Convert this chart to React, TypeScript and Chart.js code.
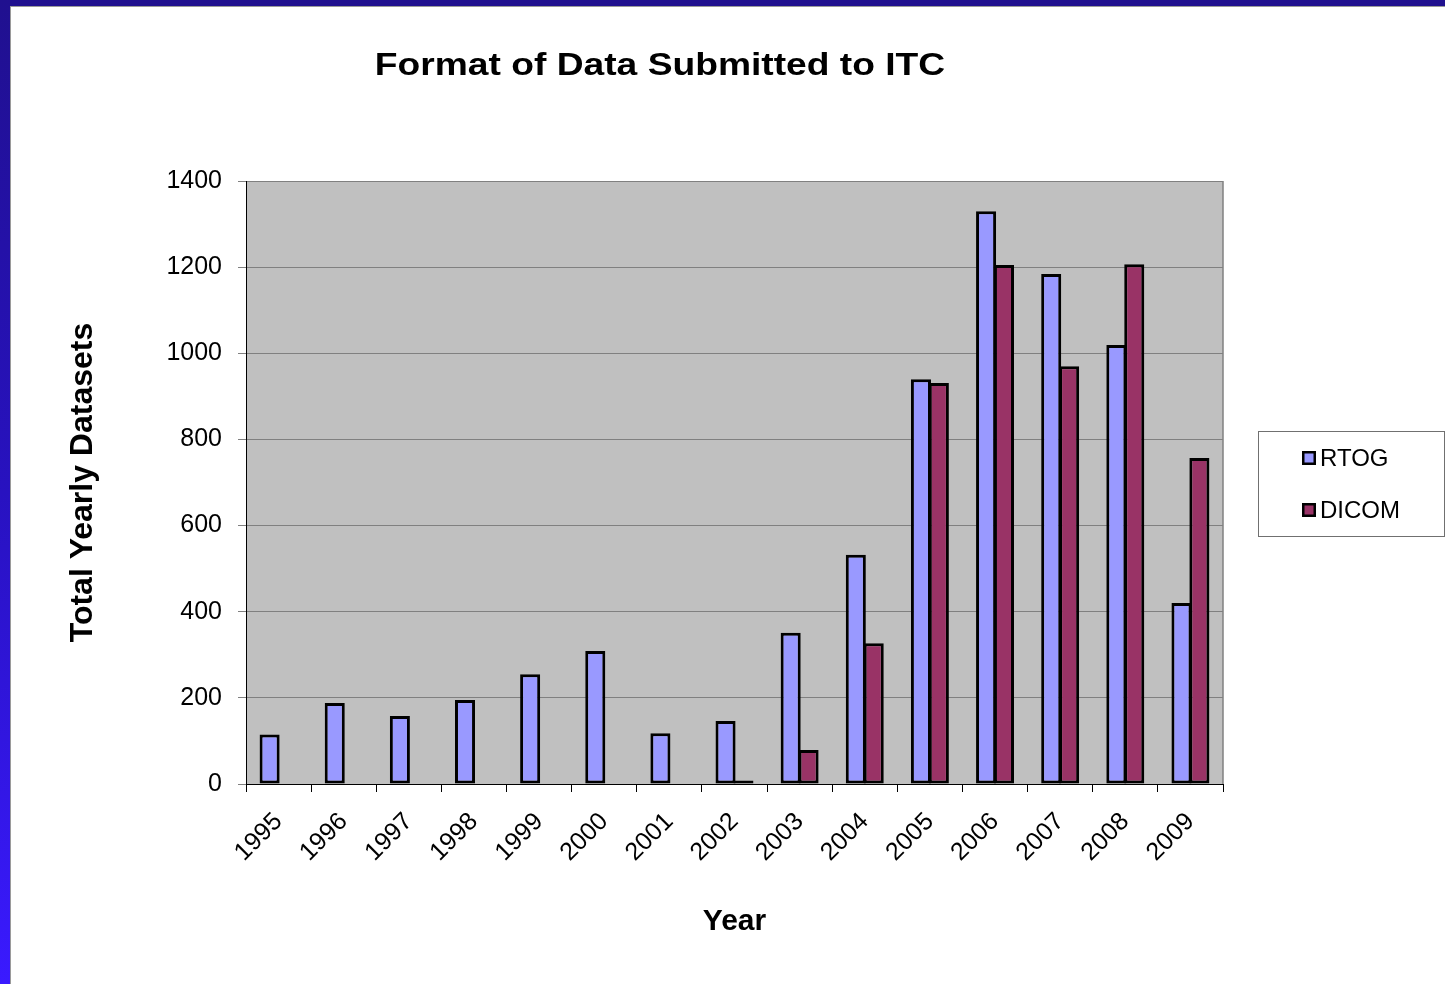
import React, { useEffect, useRef } from "react";
import { Chart, registerables } from "chart.js";

Chart.register(...registerables);

const years = ["1995", "1996", "1997", "1998", "1999", "2000", "2001", "2002", "2003", "2004", "2005", "2006", "2007", "2008", "2009"];
const rtogValues = [115, 188, 158, 195, 255, 309, 118, 146, 351, 532, 940, 1330, 1184, 1019, 420];
const dicomValues = [0, 0, 0, 0, 0, 0, 0, 8, 79, 327, 931, 1205, 970, 1207, 757];
const seriesLabels = ["RTOG", "DICOM"];
const seriesColors = ["#9999FF", "#993366"];
const yMax = 1400;
const yStep = 200;
const chartTitle = "Format of Data Submitted to ITC";
const yAxisTitle = "Total Yearly Datasets";
const xAxisTitle = "Year";

const FONT = "'Liberation Sans', Arial, Helvetica, sans-serif";

const W = 1445;
const H = 984;

const backgroundPlugin = {
  id: "plotBackground",
  beforeDraw(chart: any) {
    const { ctx, chartArea } = chart;
    ctx.save();
    ctx.fillStyle = "#FFFFFF";
    ctx.fillRect(0, 0, chart.width, chart.height);
    ctx.fillStyle = "#C0C0C0";
    ctx.fillRect(chartArea.left, chartArea.top, chartArea.right - chartArea.left, chartArea.bottom - chartArea.top);
    ctx.restore();
  },
  beforeDatasetsDraw(chart: any) {
    const { ctx, chartArea } = chart;
    ctx.save();
    ctx.strokeStyle = "#808080";
    ctx.lineWidth = 1.5;
    ctx.beginPath();
    ctx.moveTo(chartArea.right, chartArea.top);
    ctx.lineTo(chartArea.right, chartArea.bottom);
    ctx.stroke();
    ctx.restore();
  },
};

const titleAndLegendPlugin = {
  id: "titleAndLegend",
  afterDraw(chart: any) {
    const { ctx, chartArea } = chart;
    // title (horizontally stretched like the original)
    ctx.save();
    ctx.font = `bold 31px ${FONT}`;
    ctx.fillStyle = "#000000";
    ctx.textAlign = "center";
    ctx.textBaseline = "alphabetic";
    ctx.translate(660, 75);
    ctx.scale(1.2, 1);
    ctx.fillText(chartTitle, 0, 0);
    ctx.restore();

    // legend box
    const bx = chartArea.right + 35;
    const by = 431;
    const bw = 186;
    const bh = 105;
    ctx.save();
    ctx.fillStyle = "#FFFFFF";
    ctx.fillRect(bx, by, bw, bh);
    ctx.strokeStyle = "#707070";
    ctx.lineWidth = 1;
    ctx.strokeRect(bx + 0.5, by + 0.5, bw, bh);
    ctx.font = `24px ${FONT}`;
    ctx.textAlign = "left";
    ctx.textBaseline = "middle";
    chart.data.datasets.forEach((ds: any, i: number) => {
      const cy = by + 27 + i * 52;
      const sx = bx + 44;
      ctx.fillStyle = "#000000";
      ctx.fillRect(sx, cy - 7, 14, 14);
      ctx.fillStyle = ds.backgroundColor;
      ctx.fillRect(sx + 2.5, cy - 4.5, 9, 9);
      ctx.fillStyle = "#000000";
      ctx.fillText(ds.label, sx + 18, cy + 1);
    });
    ctx.restore();
  },
};

export default function App() {
  const canvasRef = useRef<HTMLCanvasElement | null>(null);

  useEffect(() => {
    if (!canvasRef.current) return;
    const chart = new Chart(canvasRef.current, {
      type: "bar",
      data: {
        labels: years,
        datasets: [
          {
            label: seriesLabels[0],
            data: rtogValues,
            backgroundColor: seriesColors[0],
            borderColor: "#000000",
            borderWidth: 3,
            borderSkipped: false,
            categoryPercentage: 0.55,
            barPercentage: 1.12,
          },
          {
            label: seriesLabels[1],
            data: dicomValues,
            backgroundColor: seriesColors[1],
            borderColor: "#000000",
            borderWidth: 3,
            borderSkipped: false,
            categoryPercentage: 0.55,
            barPercentage: 1.12,
          },
        ],
      },
      options: {
        responsive: false,
        animation: false,
        devicePixelRatio: 1,
        layout: { padding: { left: 0, right: W - 1223, top: 181, bottom: 0 } },
        plugins: {
          legend: { display: false },
          title: { display: false },
          tooltip: { enabled: false },
        },
        scales: {
          x: {
            offset: true,
            grid: {
              display: true,
              offset: true,
              drawOnChartArea: false,
              drawTicks: true,
              tickLength: 8,
              color: "#000000",
              lineWidth: 1,
            },
            border: { display: true, color: "#000000", width: 1 },
            ticks: {
              color: "#000000",
              font: { family: FONT, size: 25 },
              maxRotation: 45,
              minRotation: 45,
              padding: 15,
              autoSkip: false,
            },
            title: {
              display: true,
              text: xAxisTitle,
              color: "#000000",
              font: { family: FONT, size: 30, weight: "bold" },
              padding: { top: 0, bottom: 44 },
            },
            afterFit(scale: any) {
              scale.height = H - 784;
            },
          },
          y: {
            min: 0,
            max: yMax,
            ticks: {
              stepSize: yStep,
              color: "#000000",
              font: { family: FONT, size: 25 },
              padding: 16,
              callback: (value: any) => String(value),
            },
            grid: {
              color: "#808080",
              lineWidth: 1,
              tickLength: 8,
              drawTicks: true,
            },
            border: { display: true, color: "#000000", width: 1 },
            title: {
              display: true,
              text: yAxisTitle,
              color: "#000000",
              font: { family: FONT, size: 32, weight: "bold" },
              padding: { top: 64, bottom: 0 },
            },
            afterFit(scale: any) {
              scale.width = 246;
            },
          },
        },
      },
      plugins: [backgroundPlugin, titleAndLegendPlugin],
    });
    return () => chart.destroy();
  }, []);

  return (
    <div style={{ position: "fixed", left: 0, top: 0, width: W, height: H, background: "#FFFFFF", overflow: "hidden" }}>
      <canvas ref={canvasRef} width={W} height={H} style={{ display: "block", position: "absolute", left: 0, top: 0 }} />
      <div style={{ position: "absolute", left: 0, top: 0, width: W, height: 6, background: "#20108F" }} />
      <div style={{ position: "absolute", left: 10, top: 6, width: W - 10, height: 1, background: "#9A9A9A" }} />
      <div
        style={{
          position: "absolute",
          left: 0,
          top: 0,
          width: 10,
          height: H,
          background: "linear-gradient(to bottom, #20108F 0%, #2812C0 50%, #3A1AFF 100%)",
        }}
      />
      <div style={{ position: "absolute", left: 10, top: 6, width: 1, height: H - 6, background: "#9A9A9A" }} />
    </div>
  );
}
